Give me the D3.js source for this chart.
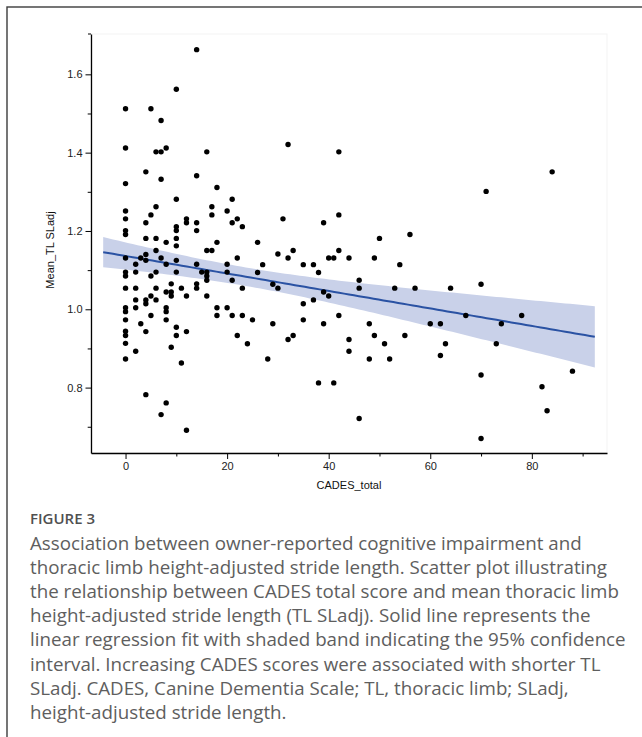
<!DOCTYPE html>
<html lang="en">
<head>
    <meta charset="UTF-8">
    <title>CADES_total vs Mean_TL SLadj</title>
    <script src="https://cdn.jsdelivr.net/npm/d3@7"></script>
    <style>
        body { margin: 0; background: #fff; }
        svg { display: block; }
    </style>
</head>
<body>
<script>
    // CADES total score (x) and mean thoracic limb height-adjusted stride length (y)
    const cadesTotal = [
        0, 5, 14, 10, 7, 0, 6, 7, 8, 16, 4, 0, 7, 14, 18, 10, 21, 0, 6, 5, 17, 17, 20, 0, 4,
        10, 10, 12, 12, 14, 14, 21, 22, 0, 0, 4, 6, 8, 10, 10, 18, 6, 16, 17, 0, 3, 4, 7, 22,
        4, 10, 2, 8, 14, 20, 0, 0, 2, 6, 10, 15, 16, 20, 5, 16, 16, 21, 14, 9, 0, 2, 6, 11, 14,
        8, 9, 9, 5, 12, 16, 2, 4, 6, 4, 0, 0, 2, 8, 8, 18, 20, 5, 18, 21, 0, 8, 3, 10, 0, 4,
        12, 0, 10, 22, 0, 9, 2, 0, 11, 4, 8, 7, 12,
        23, 32, 42, 31, 39, 42, 26, 30, 33, 32, 40, 41, 42, 44, 49, 50, 56,
        27, 26, 23, 35, 37, 38, 29, 30, 39, 40, 37, 35, 46, 46, 54, 53, 57, 23, 25, 24, 29, 35,
        32, 33, 39, 42, 28, 44, 44, 48, 49, 48, 51, 52, 55, 38, 41, 46,
        71, 84,
        60, 62, 64, 70, 67, 63, 62, 73, 74, 78, 70, 88, 82, 83, 70
    ];
    const meanTLSLadj = [
        1.512, 1.512, 1.663, 1.562, 1.482, 1.412, 1.402, 1.402, 1.412, 1.402, 1.351, 1.321, 1.332, 1.341, 1.311, 1.281, 1.281, 1.251, 1.262, 1.241, 1.262, 1.241, 1.251, 1.231, 1.221,
        1.211, 1.201, 1.231, 1.221, 1.221, 1.201, 1.221, 1.231, 1.201, 1.191, 1.181, 1.181, 1.171, 1.181, 1.162, 1.171, 1.150, 1.150, 1.150, 1.131, 1.131, 1.140, 1.131, 1.131,
        1.125, 1.125, 1.115, 1.115, 1.115, 1.115, 1.095, 1.085, 1.095, 1.095, 1.095, 1.095, 1.095, 1.095, 1.085, 1.085, 1.074, 1.074, 1.065, 1.065, 1.054, 1.054, 1.054, 1.054, 1.054,
        1.044, 1.044, 1.034, 1.034, 1.034, 1.034, 1.024, 1.024, 1.024, 1.014, 1.004, 0.994, 1.004, 1.004, 0.994, 1.004, 1.004, 0.984, 0.984, 0.984, 0.973, 0.973, 0.963, 0.954, 0.944, 0.943,
        0.943, 0.933, 0.933, 0.933, 0.913, 0.903, 0.893, 0.873, 0.863, 0.782, 0.761, 0.731, 0.691,
        1.211, 1.421, 1.402, 1.231, 1.221, 1.241, 1.171, 1.141, 1.150, 1.131, 1.131, 1.131, 1.150, 1.131, 1.131, 1.181, 1.191,
        1.114, 1.094, 1.054, 1.114, 1.114, 1.094, 1.064, 1.054, 1.044, 1.034, 1.024, 1.014, 1.074, 1.054, 1.114, 1.054, 1.054, 0.984, 0.973, 0.912, 0.963, 0.973,
        0.923, 0.933, 0.963, 0.984, 0.873, 0.923, 0.893, 0.963, 0.933, 0.873, 0.912, 0.873, 0.933, 0.812, 0.812, 0.721,
        1.301, 1.351,
        0.963, 0.963, 1.054, 1.064, 0.984, 0.912, 0.882, 0.912, 0.963, 0.984, 0.832, 0.842, 0.802, 0.741, 0.670
    ];
    const xTicks = [0, 20, 40, 60, 80];
    const xMinorTicks = [10, 30, 50, 70, 90];
    const yTicks = [0.8, 1.0, 1.2, 1.4, 1.6];
    const yMinorTicks = [0.7, 0.9, 1.1, 1.3, 1.5];
    const xTitle = 'CADES_total';
    const yTitle = 'Mean_TL SLadj';
    const figLabel = 'FIGURE 3';
    const captionLines = [
        'Association between owner-reported cognitive impairment and',
        'thoracic limb height-adjusted stride length. Scatter plot illustrating',
        'the relationship between CADES total score and mean thoracic limb',
        'height-adjusted stride length (TL SLadj). Solid line represents the',
        'linear regression fit with shaded band indicating the 95% confidence',
        'interval. Increasing CADES scores were associated with shorter TL',
        'SLadj. CADES, Canine Dementia Scale; TL, thoracic limb; SLadj,',
        'height-adjusted stride length.'
    ];

    let width = 642,
        height = 737;
    let plot = { left: 91, right: 607, top: 34, bottom: 453 };

    let svg = d3.select('body').append('svg')
                .attr('width', width)
                .attr('height', height);

    svg.append('rect').attr('width', width).attr('height', height).attr('fill', '#fff');

    // outer figure frame (runs off the right and bottom edge)
    svg.append('rect')
       .attr('x', 7).attr('y', 7)
       .attr('width', 700).attr('height', 800)
       .attr('fill', 'none')
       .attr('stroke', '#3c3c3c')
       .attr('stroke-width', 1.4);

    let x = d3.scaleLinear().domain([-6.8, 94.8]).range([plot.left, plot.right]);
    let y = d3.scaleLinear().domain([0.633, 1.703]).range([plot.bottom, plot.top]);

    // faint plot frame
    svg.append('rect')
       .attr('x', plot.left).attr('y', plot.top)
       .attr('width', plot.right - plot.left).attr('height', plot.bottom - plot.top)
       .attr('fill', 'none')
       .attr('stroke', '#f3f3f3');

    // linear fit with 95% CI
    let pts = cadesTotal.map((v, i) => [v, meanTLSLadj[i]]);
    let n = pts.length;
    let mx = d3.mean(pts, d => d[0]), my = d3.mean(pts, d => d[1]);
    let sxx = d3.sum(pts, d => (d[0] - mx) ** 2);
    let sxy = d3.sum(pts, d => (d[0] - mx) * (d[1] - my));
    let slope = sxy / sxx, icpt = my - slope * mx;
    let sse = d3.sum(pts, d => (d[1] - icpt - slope * d[0]) ** 2);
    let s = Math.sqrt(sse / (n - 2));
    let tval = 1.973;
    let ext = d3.extent(cadesTotal), pad = (ext[1] - ext[0]) * 0.05;
    let fitX = d3.range(0, 101).map(k => ext[0] - pad + (ext[1] - ext[0] + 2 * pad) * k / 100);
    let fit = fitX.map(xv => {
        let yh = icpt + slope * xv;
        let se = s * Math.sqrt(1 / n + (xv - mx) ** 2 / sxx);
        return { x: xv, y: yh, lo: yh - tval * se, hi: yh + tval * se };
    });

    svg.append('path')
       .datum(fit)
       .attr('fill', '#c9d1e9')
       .attr('d', d3.area().x(d => x(d.x)).y0(d => y(d.lo)).y1(d => y(d.hi)));

    svg.append('path')
       .datum(fit)
       .attr('fill', 'none')
       .attr('stroke', '#2a52a3')
       .attr('stroke-width', 2)
       .attr('d', d3.line().x(d => x(d.x)).y(d => y(d.y)));

    // points
    svg.append('g')
       .selectAll('circle')
       .data(pts)
       .enter()
       .append('circle')
       .attr('cx', d => x(d[0]))
       .attr('cy', d => y(d[1]))
       .attr('r', 2.7)
       .attr('fill', '#000');

    // axes
    svg.append('g')
       .attr('transform', `translate(0, ${plot.bottom})`)
       .call(d3.axisBottom(x).tickValues(xTicks).tickSize(6).tickSizeOuter(0).tickPadding(3));
    svg.append('g')
       .attr('transform', `translate(0, ${plot.bottom})`)
       .call(d3.axisBottom(x).tickValues(xMinorTicks).tickSize(3.5).tickSizeOuter(0).tickFormat(''))
       .select('.domain').remove();

    svg.append('g')
       .attr('transform', `translate(${plot.left}, 0)`)
       .call(d3.axisLeft(y).tickValues(yTicks).tickSize(5.5).tickSizeOuter(0).tickPadding(3).tickFormat(d3.format('.1f')));
    svg.append('g')
       .attr('transform', `translate(${plot.left}, 0)`)
       .call(d3.axisLeft(y).tickValues(yMinorTicks).tickSize(3.3).tickSizeOuter(0).tickFormat(''))
       .select('.domain').remove();
    // little cap at the top of the y axis
    svg.append('line')
       .attr('x1', plot.left - 3).attr('x2', plot.left)
       .attr('y1', y.range()[1]).attr('y2', y.range()[1])
       .attr('stroke', '#000');

    svg.selectAll('.domain').attr('stroke-width', 1.3);
    svg.selectAll('.tick text')
       .attr('font-family', '"Liberation Sans", Arial, sans-serif')
       .attr('font-size', 11)
       .attr('fill', '#222');

    svg.append('text')
       .attr('x', (plot.left + plot.right) / 2)
       .attr('y', 489)
       .attr('text-anchor', 'middle')
       .attr('font-family', '"Liberation Sans", Arial, sans-serif')
       .attr('font-size', 11)
       .attr('fill', '#111')
       .text(xTitle);

    svg.append('text')
       .attr('transform', `translate(54, 250) rotate(-90)`)
       .attr('text-anchor', 'middle')
       .attr('font-family', '"Liberation Sans", Arial, sans-serif')
       .attr('font-size', 11)
       .attr('fill', '#111')
       .text(yTitle);

    // caption
    svg.append('text')
       .attr('x', 30).attr('y', 524)
       .attr('font-family', '"Open Sans", sans-serif')
       .attr('font-size', 15)
       .attr('font-weight', 600)
       .attr('fill', '#505050')
       .text(figLabel);

    let capText = svg.append('g')
       .attr('font-family', '"Open Sans", sans-serif')
       .attr('fill', '#5e5e5e')
       .selectAll('text')
       .data(captionLines)
       .enter()
       .append('text')
       .attr('x', 30)
       .attr('y', (d, i) => 550 + i * 24.1)
       .attr('font-size', 16)
       .text(d => d);
    // size the caption so the first line spans the same width as in the reference
    let len0 = capText.node().getComputedTextLength();
    capText.attr('font-size', 16 * 552 / len0);
</script>
</body>
</html>
